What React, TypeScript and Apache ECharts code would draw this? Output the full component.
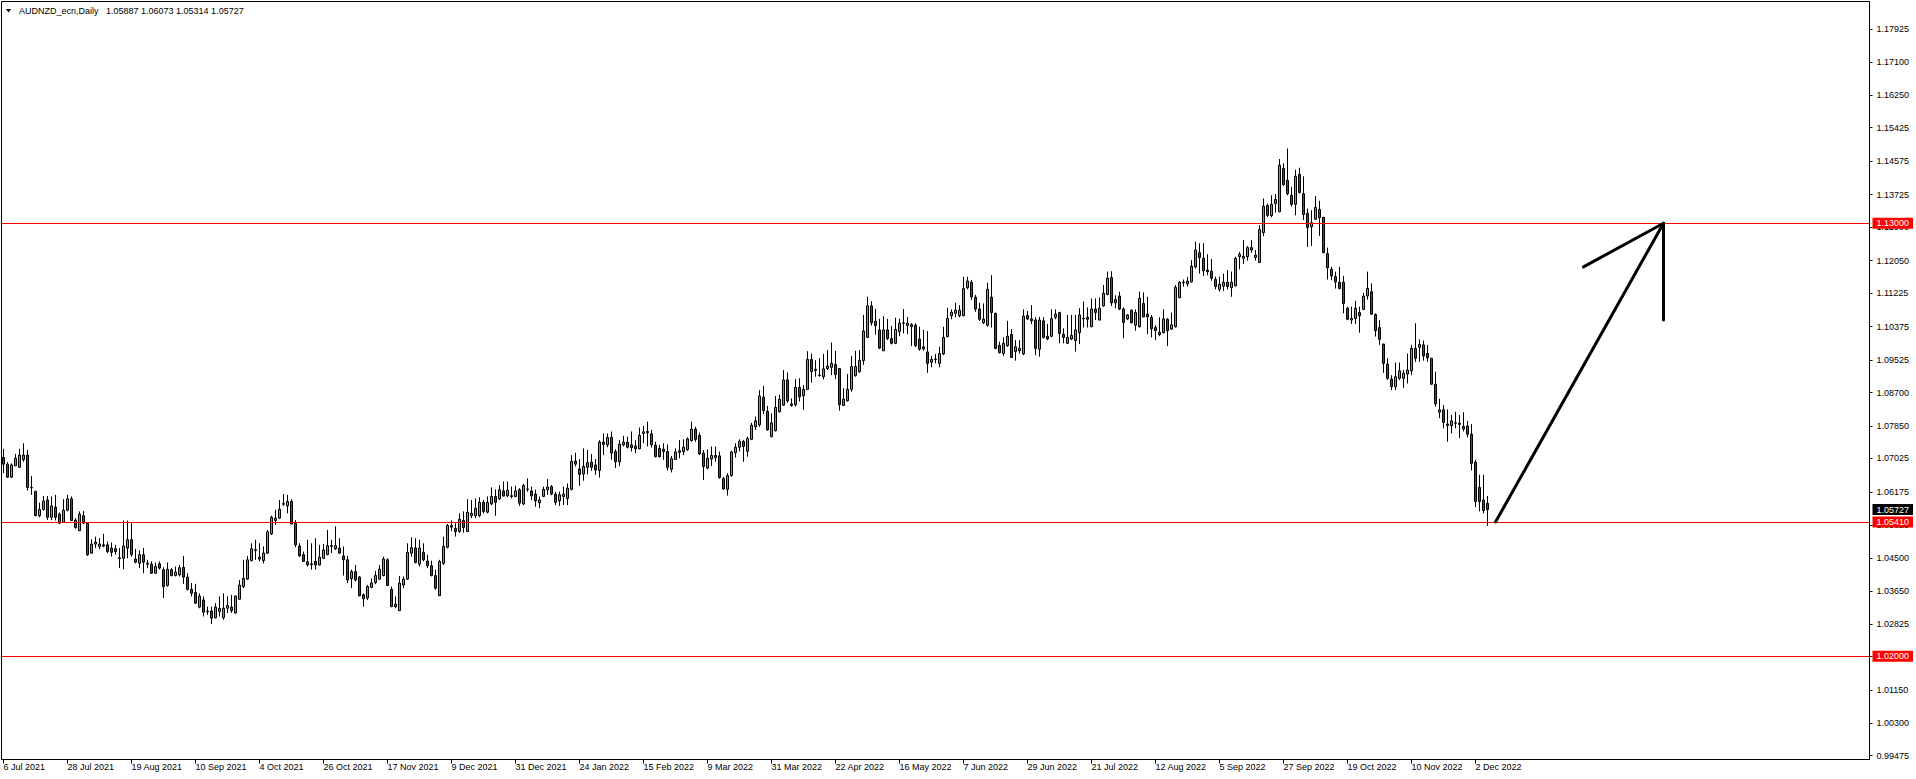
import React, { useEffect, useRef } from "react";
import * as echarts from "echarts";

// ---------- data ----------
const symbolTitle = "AUDNZD_ecn,Daily";
const headerOHLC = ["1.05887", "1.06073", "1.05314", "1.05727"];
const firstDate = "2021-07-06";
const labelEvery = 16;
const lastLabelIndex = 368;
const totalSlots = 467;
const monthNames = ["Jan", "Feb", "Mar", "Apr", "May", "Jun", "Jul", "Aug", "Sep", "Oct", "Nov", "Dec"];

const yTicks = [1.17925, 1.171, 1.1625, 1.15425, 1.14575, 1.13725, 1.129, 1.1205, 1.11225, 1.10375, 1.09525, 1.087, 1.0785, 1.07025, 1.06175, 1.05325, 1.045, 1.0365, 1.02825, 1.02, 1.0115, 1.003, 0.99475];
const yMin = 0.993785;
const yMax = 1.186311;
const levels = [1.13, 1.0541, 1.02];
const lastPrice = 1.05727;

// arrow annotation (bar index, price)
const arrowShaft = [[373, 1.0541], [415, 1.13]];
const arrowBarbLeft = [[395, 1.1189], [415, 1.13]];
const arrowBarbDown = [[415, 1.1054], [415, 1.13]];

// candles: [open, close, low, high]
const candlesJul21ToDec21 = [
  [1.0705,1.0688,1.0665,1.0727],[1.0688,1.0655,1.0654,1.0693],[1.0655,1.0686,1.0653,1.0690],[1.0684,1.0703,1.0683,1.0714],
  [1.0680,1.0711,1.0679,1.0727],[1.0700,1.0711,1.0694,1.0741],[1.0711,1.0629,1.0621,1.0724],[1.0629,1.0628,1.0610,1.0658],
  [1.0619,1.0557,1.0556,1.0620],[1.0557,1.0573,1.0553,1.0590],[1.0573,1.0594,1.0570,1.0607],[1.0597,1.0553,1.0546,1.0607],
  [1.0553,1.0582,1.0546,1.0606],[1.0579,1.0553,1.0545,1.0610],[1.0561,1.0538,1.0536,1.0565],[1.0540,1.0571,1.0539,1.0599],
  [1.0571,1.0600,1.0568,1.0610],[1.0600,1.0545,1.0544,1.0606],[1.0546,1.0527,1.0524,1.0551],[1.0519,1.0561,1.0518,1.0568],
  [1.0557,1.0538,1.0536,1.0569],[1.0538,1.0458,1.0455,1.0539],[1.0462,1.0485,1.0461,1.0497],[1.0485,1.0490,1.0475,1.0504],
  [1.0479,1.0485,1.0472,1.0500],[1.0483,1.0480,1.0477,1.0511],[1.0483,1.0466,1.0462,1.0491],[1.0475,1.0464,1.0453,1.0489],
  [1.0473,1.0466,1.0458,1.0483],[1.0450,1.0448,1.0424,1.0475],[1.0449,1.0480,1.0421,1.0545],[1.0475,1.0496,1.0449,1.0545],
  [1.0496,1.0458,1.0453,1.0538],[1.0447,1.0439,1.0436,1.0473],[1.0436,1.0458,1.0424,1.0469],[1.0458,1.0439,1.0411,1.0475],
  [1.0436,1.0434,1.0424,1.0445],[1.0434,1.0411,1.0409,1.0441],[1.0411,1.0428,1.0409,1.0438],[1.0435,1.0424,1.0420,1.0441],
  [1.0420,1.0377,1.0348,1.0426],[1.0380,1.0421,1.0377,1.0438],[1.0420,1.0405,1.0403,1.0424],[1.0405,1.0414,1.0403,1.0428],
  [1.0407,1.0425,1.0403,1.0432],[1.0426,1.0401,1.0384,1.0455],[1.0401,1.0370,1.0367,1.0411],[1.0370,1.0360,1.0352,1.0386],
  [1.0362,1.0335,1.0333,1.0384],[1.0325,1.0353,1.0322,1.0360],[1.0343,1.0312,1.0301,1.0352],[1.0315,1.0313,1.0305,1.0326],
  [1.0315,1.0297,1.0282,1.0326],[1.0298,1.0325,1.0296,1.0335],[1.0314,1.0322,1.0301,1.0352],[1.0298,1.0322,1.0293,1.0360],
  [1.0322,1.0329,1.0310,1.0352],[1.0325,1.0316,1.0310,1.0356],[1.0310,1.0353,1.0309,1.0354],[1.0345,1.0381,1.0343,1.0394],
  [1.0377,1.0398,1.0373,1.0445],[1.0396,1.0445,1.0394,1.0455],[1.0443,1.0473,1.0441,1.0487],[1.0469,1.0471,1.0445,1.0496],
  [1.0447,1.0452,1.0441,1.0487],[1.0443,1.0462,1.0436,1.0479],[1.0462,1.0516,1.0460,1.0521],[1.0511,1.0553,1.0508,1.0557],
  [1.0545,1.0551,1.0534,1.0572],[1.0551,1.0573,1.0549,1.0597],[1.0586,1.0588,1.0582,1.0612],[1.0582,1.0593,1.0563,1.0610],
  [1.0593,1.0536,1.0535,1.0599],[1.0538,1.0483,1.0477,1.0546],[1.0480,1.0455,1.0453,1.0487],[1.0458,1.0441,1.0440,1.0466],
  [1.0440,1.0432,1.0428,1.0496],[1.0435,1.0433,1.0420,1.0487],[1.0441,1.0432,1.0420,1.0500],[1.0432,1.0452,1.0431,1.0483],
  [1.0449,1.0470,1.0448,1.0485],[1.0458,1.0481,1.0457,1.0521],[1.0481,1.0479,1.0462,1.0496],[1.0473,1.0481,1.0470,1.0530],
  [1.0475,1.0462,1.0461,1.0500],[1.0455,1.0445,1.0405,1.0479],[1.0445,1.0394,1.0386,1.0455],[1.0397,1.0415,1.0373,1.0420],
  [1.0415,1.0394,1.0390,1.0432],[1.0401,1.0354,1.0352,1.0404],[1.0356,1.0346,1.0326,1.0360],[1.0348,1.0377,1.0343,1.0381],
  [1.0375,1.0386,1.0373,1.0398],[1.0387,1.0405,1.0383,1.0417],[1.0396,1.0421,1.0394,1.0432],[1.0405,1.0447,1.0403,1.0453],
  [1.0445,1.0380,1.0379,1.0449],[1.0370,1.0326,1.0325,1.0377],[1.0332,1.0326,1.0322,1.0352],[1.0316,1.0386,1.0315,1.0404],
  [1.0381,1.0396,1.0373,1.0403],[1.0396,1.0464,1.0394,1.0487],[1.0462,1.0476,1.0453,1.0502],[1.0475,1.0438,1.0436,1.0500],
  [1.0434,1.0475,1.0428,1.0496],[1.0464,1.0445,1.0441,1.0487],[1.0442,1.0430,1.0424,1.0458],[1.0430,1.0405,1.0403,1.0443],
  [1.0405,1.0373,1.0369,1.0420],[1.0354,1.0441,1.0353,1.0445],[1.0436,1.0479,1.0432,1.0504],[1.0477,1.0532,1.0474,1.0536],
];

const candlesDec21ToMar22 = [
  [1.0532,1.0528,1.0518,1.0545],
  [1.0525,1.0517,1.0504,1.0538],[1.0517,1.0548,1.0514,1.0563],[1.0545,1.0527,1.0514,1.0568],[1.0517,1.0566,1.0516,1.0599],
  [1.0557,1.0563,1.0551,1.0597],[1.0557,1.0576,1.0551,1.0601],[1.0557,1.0591,1.0553,1.0604],[1.0591,1.0568,1.0563,1.0597],
  [1.0566,1.0591,1.0563,1.0606],[1.0587,1.0606,1.0584,1.0629],[1.0606,1.0591,1.0557,1.0624],[1.0600,1.0623,1.0597,1.0635],
  [1.0620,1.0607,1.0606,1.0644],[1.0608,1.0622,1.0604,1.0644],[1.0608,1.0606,1.0601,1.0631],[1.0606,1.0620,1.0604,1.0633],
  [1.0623,1.0589,1.0582,1.0627],[1.0587,1.0634,1.0584,1.0638],[1.0624,1.0625,1.0618,1.0652],[1.0620,1.0608,1.0597,1.0631],
  [1.0612,1.0595,1.0580,1.0623],[1.0590,1.0597,1.0576,1.0606],[1.0606,1.0624,1.0604,1.0631],[1.0623,1.0630,1.0610,1.0650],
  [1.0631,1.0612,1.0609,1.0635],[1.0612,1.0591,1.0584,1.0618],[1.0595,1.0610,1.0582,1.0618],[1.0606,1.0612,1.0584,1.0631],
  [1.0601,1.0627,1.0584,1.0639],[1.0624,1.0695,1.0621,1.0711],[1.0696,1.0688,1.0682,1.0717],[1.0676,1.0662,1.0633,1.0701],
  [1.0663,1.0682,1.0646,1.0728],[1.0680,1.0692,1.0662,1.0724],[1.0693,1.0680,1.0671,1.0714],[1.0686,1.0673,1.0661,1.0701],
  [1.0672,1.0744,1.0654,1.0749],[1.0744,1.0738,1.0711,1.0766],[1.0737,1.0756,1.0731,1.0766],[1.0756,1.0716,1.0699,1.0771],
  [1.0720,1.0694,1.0678,1.0726],[1.0694,1.0739,1.0683,1.0749],[1.0737,1.0744,1.0733,1.0760],[1.0744,1.0731,1.0728,1.0758],
  [1.0737,1.0730,1.0720,1.0771],[1.0734,1.0727,1.0716,1.0749],[1.0727,1.0761,1.0726,1.0781],[1.0766,1.0770,1.0741,1.0785],
  [1.0771,1.0768,1.0733,1.0796],[1.0765,1.0737,1.0730,1.0775],[1.0736,1.0707,1.0705,1.0745],[1.0728,1.0707,1.0705,1.0737],
  [1.0726,1.0720,1.0699,1.0741],[1.0720,1.0680,1.0672,1.0738],[1.0675,1.0702,1.0667,1.0709],[1.0700,1.0719,1.0699,1.0728],
  [1.0718,1.0722,1.0703,1.0749],[1.0720,1.0731,1.0711,1.0751],[1.0725,1.0752,1.0722,1.0756],[1.0748,1.0777,1.0745,1.0796],
  [1.0777,1.0751,1.0745,1.0783],[1.0761,1.0714,1.0711,1.0768],[1.0716,1.0682,1.0648,1.0724],[1.0678,1.0703,1.0675,1.0726],
  [1.0701,1.0710,1.0683,1.0733],[1.0710,1.0705,1.0694,1.0733],[1.0709,1.0654,1.0651,1.0720],[1.0651,1.0625,1.0623,1.0656],
  [1.0624,1.0659,1.0608,1.0665],[1.0659,1.0719,1.0656,1.0722],[1.0717,1.0731,1.0705,1.0741],[1.0731,1.0746,1.0720,1.0751],
  [1.0746,1.0733,1.0694,1.0749],[1.0721,1.0753,1.0707,1.0758],[1.0751,1.0787,1.0749,1.0793],
];

const candlesMar22ToAug22 = [
  [1.0783,1.0798,1.0775,1.0809],[1.0788,1.0861,1.0783,1.0876],[1.0858,1.0824,1.0815,1.0887],[1.0822,1.0775,1.0773,1.0836],
  [1.0758,1.0793,1.0756,1.0817],[1.0773,1.0832,1.0771,1.0861],[1.0821,1.0853,1.0819,1.0864],[1.0838,1.0902,1.0836,1.0927],
  [1.0902,1.0849,1.0844,1.0921],[1.0841,1.0837,1.0834,1.0855],[1.0839,1.0883,1.0834,1.0904],[1.0883,1.0859,1.0847,1.0906],
  [1.0862,1.0878,1.0826,1.0889],[1.0878,1.0954,1.0876,1.0975],[1.0954,1.0923,1.0895,1.0969],[1.0926,1.0929,1.0910,1.0952],
  [1.0914,1.0913,1.0910,1.0957],[1.0910,1.0930,1.0903,1.0968],[1.0931,1.0937,1.0927,1.0978],[1.0934,1.0944,1.0914,1.0997],
  [1.0941,1.0916,1.0904,1.0976],[1.0931,1.0839,1.0824,1.0932],[1.0837,1.0853,1.0836,1.0881],[1.0849,1.0878,1.0847,1.0917],
  [1.0878,1.0936,1.0872,1.0963],[1.0913,1.0936,1.0910,1.0976],[1.0923,1.0952,1.0920,1.0978],[1.0951,1.1026,1.0940,1.1067],
  [1.1010,1.1090,1.1008,1.1113],[1.1090,1.1047,1.1040,1.1102],[1.1051,1.1040,1.1017,1.1082],[1.1029,1.0983,1.0980,1.1057],
  [1.0976,1.1029,1.0975,1.1064],[1.1029,1.1007,1.1003,1.1057],[1.1007,1.0995,1.0992,1.1039],[1.0995,1.1030,1.0993,1.1060],
  [1.1025,1.1046,1.1013,1.1057],[1.1046,1.1047,1.1020,1.1082],[1.1040,1.1046,1.1018,1.1062],[1.1043,1.1037,1.0988,1.1046],
  [1.1041,1.0989,1.0985,1.1046],[1.1006,1.0980,1.0976,1.1037],[1.0986,1.0981,1.0976,1.1029],[1.0973,1.0944,1.0920,1.1026],
  [1.0947,1.0954,1.0934,1.0963],[1.0954,1.0955,1.0944,1.0968],[1.0944,1.0969,1.0934,1.0986],[1.0968,1.1010,1.0965,1.1037],
  [1.1012,1.1058,1.1010,1.1085],[1.1065,1.1074,1.1056,1.1081],[1.1071,1.1079,1.1061,1.1098],[1.1065,1.1079,1.1061,1.1092],
  [1.1065,1.1134,1.1064,1.1164],[1.1136,1.1153,1.1132,1.1164],[1.1150,1.1113,1.1105,1.1156],[1.1112,1.1082,1.1075,1.1118],
  [1.1082,1.1056,1.1052,1.1098],[1.1047,1.1056,1.1044,1.1096],[1.1041,1.1132,1.1037,1.1149],[1.1112,1.1073,1.1035,1.1168],
  [1.1071,1.0982,1.0980,1.1073],[1.0990,1.0971,1.0969,1.0999],[1.0969,1.0995,1.0963,1.1010],[1.0989,1.1013,1.0986,1.1052],
  [1.1018,1.0959,1.0958,1.1031],[1.0974,1.0986,1.0951,1.1003],[1.0976,1.0982,1.0969,1.1003],[1.0968,1.1064,1.0965,1.1081],
  [1.1066,1.1057,1.1054,1.1077],[1.1057,1.1052,1.1044,1.1092],[1.1054,1.0982,1.0965,1.1061],[1.0980,1.1054,1.0961,1.1062],
  [1.1052,1.1010,1.1007,1.1061],[1.1013,1.1006,1.1003,1.1044],[1.1013,1.1058,1.1010,1.1081],[1.1061,1.1069,1.1056,1.1081],
  [1.1073,1.1020,1.0995,1.1075],[1.1018,1.1010,1.0995,1.1033],[1.0995,1.1010,1.0993,1.1067],[1.1006,1.1015,1.1003,1.1067],
  [1.1002,1.1029,1.0974,1.1067],[1.1022,1.1067,1.0993,1.1084],[1.1057,1.1058,1.1035,1.1101],[1.1061,1.1056,1.1035,1.1086],
  [1.1037,1.1082,1.1036,1.1109],[1.1082,1.1073,1.1054,1.1109],[1.1054,1.1084,1.1053,1.1111],[1.1090,1.1122,1.1088,1.1143],
  [1.1119,1.1160,1.1117,1.1177],[1.1162,1.1098,1.1090,1.1178],[1.1106,1.1098,1.1084,1.1117],[1.1115,1.1082,1.1079,1.1126],
  [1.1082,1.1048,1.1008,1.1086],[1.1057,1.1067,1.1054,1.1069],[1.1079,1.1047,1.1046,1.1081],[1.1041,1.1073,1.1027,1.1081],
  [1.1037,1.1109,1.1035,1.1126],[1.1096,1.1062,1.1061,1.1124],[1.1069,1.1062,1.1018,1.1113],[1.1061,1.1032,1.1010,1.1067],
  [1.1035,1.1027,1.1003,1.1041],[1.1023,1.1017,1.1013,1.1061],[1.1022,1.1057,1.1020,1.1081],[1.1056,1.1027,1.0988,1.1059],
  [1.1031,1.1042,1.1029,1.1073],[1.1037,1.1137,1.1035,1.1143],[1.1111,1.1150,1.1109,1.1153],[1.1149,1.1150,1.1139,1.1157],
  [1.1146,1.1153,1.1139,1.1164],[1.1151,1.1191,1.1149,1.1206],[1.1189,1.1232,1.1185,1.1253],[1.1225,1.1213,1.1172,1.1249],
];

const candlesAug22ToNov22 = [
  [1.1211,1.1179,1.1166,1.1249],[1.1181,1.1177,1.1168,1.1221],[1.1178,1.1160,1.1154,1.1209],[1.1157,1.1139,1.1132,1.1164],
  [1.1132,1.1145,1.1126,1.1164],[1.1140,1.1150,1.1128,1.1172],[1.1150,1.1139,1.1132,1.1181],[1.1136,1.1150,1.1113,1.1177],
  [1.1141,1.1211,1.1139,1.1215],[1.1215,1.1221,1.1183,1.1227],[1.1211,1.1216,1.1196,1.1257],[1.1215,1.1238,1.1205,1.1242],
  [1.1238,1.1232,1.1225,1.1257],[1.1213,1.1219,1.1205,1.1232],[1.1200,1.1284,1.1199,1.1295],[1.1276,1.1343,1.1267,1.1363],
  [1.1345,1.1320,1.1316,1.1350],[1.1319,1.1348,1.1315,1.1371],[1.1350,1.1360,1.1327,1.1374],[1.1329,1.1447,1.1328,1.1463],
  [1.1439,1.1398,1.1395,1.1452],[1.1409,1.1375,1.1371,1.1490],[1.1371,1.1348,1.1342,1.1392],[1.1348,1.1419,1.1320,1.1436],
  [1.1424,1.1378,1.1375,1.1441],[1.1375,1.1322,1.1308,1.1419],[1.1325,1.1289,1.1240,1.1337],[1.1291,1.1301,1.1242,1.1333],
  [1.1310,1.1340,1.1308,1.1369],[1.1335,1.1314,1.1268,1.1357],[1.1315,1.1225,1.1224,1.1316],[1.1223,1.1187,1.1157,1.1238],
  [1.1183,1.1166,1.1155,1.1189],[1.1164,1.1151,1.1134,1.1177],[1.1150,1.1134,1.1132,1.1189],[1.1150,1.1096,1.1071,1.1166],
  [1.1084,1.1056,1.1054,1.1088],[1.1054,1.1058,1.1044,1.1088],[1.1058,1.1084,1.1044,1.1103],[1.1073,1.1065,1.1022,1.1088],
  [1.1081,1.1115,1.1079,1.1123],[1.1115,1.1134,1.1106,1.1177],[1.1126,1.1069,1.1067,1.1147],[1.1068,1.1027,1.1012,1.1071],
  [1.1035,1.1005,1.0991,1.1054],[1.0993,1.0944,1.0920,1.0994],[1.0942,1.0906,1.0902,1.0957],[1.0904,1.0885,1.0876,1.0914],
  [1.0885,1.0910,1.0876,1.0946],[1.0906,1.0925,1.0902,1.0946],
];

const candlesNov22ToDec22 = [
  [1.0906,1.0919,1.0881,1.0927],[1.0917,1.0927,1.0893,1.0969],[1.0925,1.0982,1.0914,1.0991],[1.0982,1.0957,1.0948,1.1046],
  [1.0985,1.0992,1.0948,1.1005],[1.0991,1.0963,1.0951,1.1002],[1.0969,1.0958,1.0948,1.0991],[1.0957,1.0891,1.0889,1.0957],
  [1.0891,1.0841,1.0834,1.0923],[1.0820,1.0826,1.0805,1.0854],[1.0826,1.0794,1.0779,1.0838],[1.0790,1.0786,1.0745,1.0827],
  [1.0786,1.0798,1.0766,1.0813],[1.0792,1.0793,1.0779,1.0821],[1.0792,1.0789,1.0754,1.0813],[1.0784,1.0777,1.0771,1.0820],
  [1.0785,1.0764,1.0756,1.0798],[1.0764,1.0690,1.0672,1.0790],[1.0693,1.0593,1.0579,1.0699],[1.0629,1.0593,1.0568,1.0661],
  [1.0597,1.0570,1.0563,1.0661],[1.05887,1.05727,1.05314,1.06073],
];

// ---------- helpers ----------
function buildWeekdayDates(start: string, n: number): string[] {
  const out: string[] = [];
  const d = new Date(start + "T00:00:00Z");
  while (out.length < n) {
    const wd = d.getUTCDay();
    if (wd !== 0 && wd !== 6) {
      out.push(`${d.getUTCDate()} ${monthNames[d.getUTCMonth()]} ${d.getUTCFullYear()}`);
    }
    d.setUTCDate(d.getUTCDate() + 1);
  }
  return out;
}

const FONT = "'Liberation Sans', Arial, sans-serif";

export default function App() {
  const ref = useRef<HTMLDivElement>(null);

  useEffect(() => {
    if (!ref.current) return;
    const chart = echarts.init(ref.current, undefined, { renderer: "svg" });

    const candles = [
      ...candlesJul21ToDec21,
      ...candlesDec21ToMar22,
      ...candlesMar22ToAug22,
      ...candlesAug22ToNov22,
      ...candlesNov22ToDec22,
    ];
    const dates = buildWeekdayDates(firstDate, totalSlots);
    const showLabel = (idx: number) => idx % labelEvery === 0 && idx <= lastLabelIndex;

    const priceLabel = (bg: string) => ({
      show: true,
      position: "end",
      distance: 3,
      color: "#ffffff",
      backgroundColor: bg,
      fontSize: 9,
      fontFamily: FONT,
      lineHeight: 11,
      padding: [0, 4, 0, 4],
    });

    const levelLines = levels.map((v) => ({
      yAxis: v,
      lineStyle: { color: "#ff0000", width: 1, type: "solid" },
      label: { ...priceLabel("#ff0000"), formatter: v.toFixed(5) },
    }));

    const arrowSeg = (seg: number[][]) => [
      { coord: seg[0], lineStyle: { color: "#000000", width: 3, type: "solid", cap: "round" }, label: { show: false } },
      { coord: seg[1] },
    ];

    const option: any = {
      animation: false,
      backgroundColor: "#ffffff",
      textStyle: { fontFamily: FONT },
      grid: {
        left: 1.5,
        top: 1.5,
        width: 1868,
        height: 758,
        show: true,
        borderColor: "#000000",
        borderWidth: 1,
        containLabel: false,
        outerBoundsMode: "none",
      },
      xAxis: {
        type: "category",
        data: dates,
        boundaryGap: true,
        axisLine: { show: true, lineStyle: { color: "#000000", width: 1 } },
        axisTick: { show: true, interval: showLabel, alignWithLabel: true, length: 4, lineStyle: { color: "#000000" } },
        axisLabel: { show: true, interval: showLabel, align: "left", margin: 3, fontSize: 9, color: "#000000", fontFamily: FONT },
        splitLine: { show: false },
      },
      yAxis: {
        type: "value",
        position: "right",
        min: yMin,
        max: yMax,
        scale: true,
        axisLine: { show: true, onZero: false, lineStyle: { color: "#000000", width: 1 } },
        axisTick: { show: true, length: 3, customValues: yTicks, lineStyle: { color: "#000000" } },
        axisLabel: {
          show: true,
          customValues: yTicks,
          formatter: (v: number) => v.toFixed(5),
          margin: 7,
          fontSize: 9,
          color: "#000000",
          fontFamily: FONT,
        },
        splitLine: { show: false },
      },
      graphic: [
        { type: "polygon", shape: { points: [[6, 9], [11, 9], [8.5, 12.5]] }, style: { fill: "#000000" }, silent: true },
        {
          type: "text",
          left: 19,
          top: 6,
          silent: true,
          style: {
            text: `${symbolTitle}\u00a0\u00a0 ${headerOHLC.join(" ")}`,
            fill: "#000000",
            font: `9px ${FONT}`,
          },
        },
      ],
      series: [
        {
          type: "candlestick",
          data: candles,
          barWidth: 2,
          clip: true,
          itemStyle: {
            color: "#33cc33",
            color0: "#ff0000",
            borderColor: "#000000",
            borderColor0: "#000000",
            borderColorDoji: "#000000",
            borderWidth: 1,
          },
          markLine: {
            silent: true,
            precision: 6,
            symbol: ["none", "none"],
            animation: false,
            data: [
              ...levelLines,
              {
                yAxis: lastPrice,
                lineStyle: { color: "rgba(0,0,0,0)", width: 1, type: "solid" },
                label: { ...priceLabel("#000000"), formatter: lastPrice.toFixed(5) },
              },
              arrowSeg(arrowShaft),
              arrowSeg(arrowBarbLeft),
              arrowSeg(arrowBarbDown),
            ],
          },
        },
      ],
    };

    chart.setOption(option);
    return () => chart.dispose();
  }, []);

  return (
    <div
      ref={ref}
      style={{ position: "absolute", left: 0, top: 0, width: 1916, height: 779, background: "#ffffff" }}
    />
  );
}
